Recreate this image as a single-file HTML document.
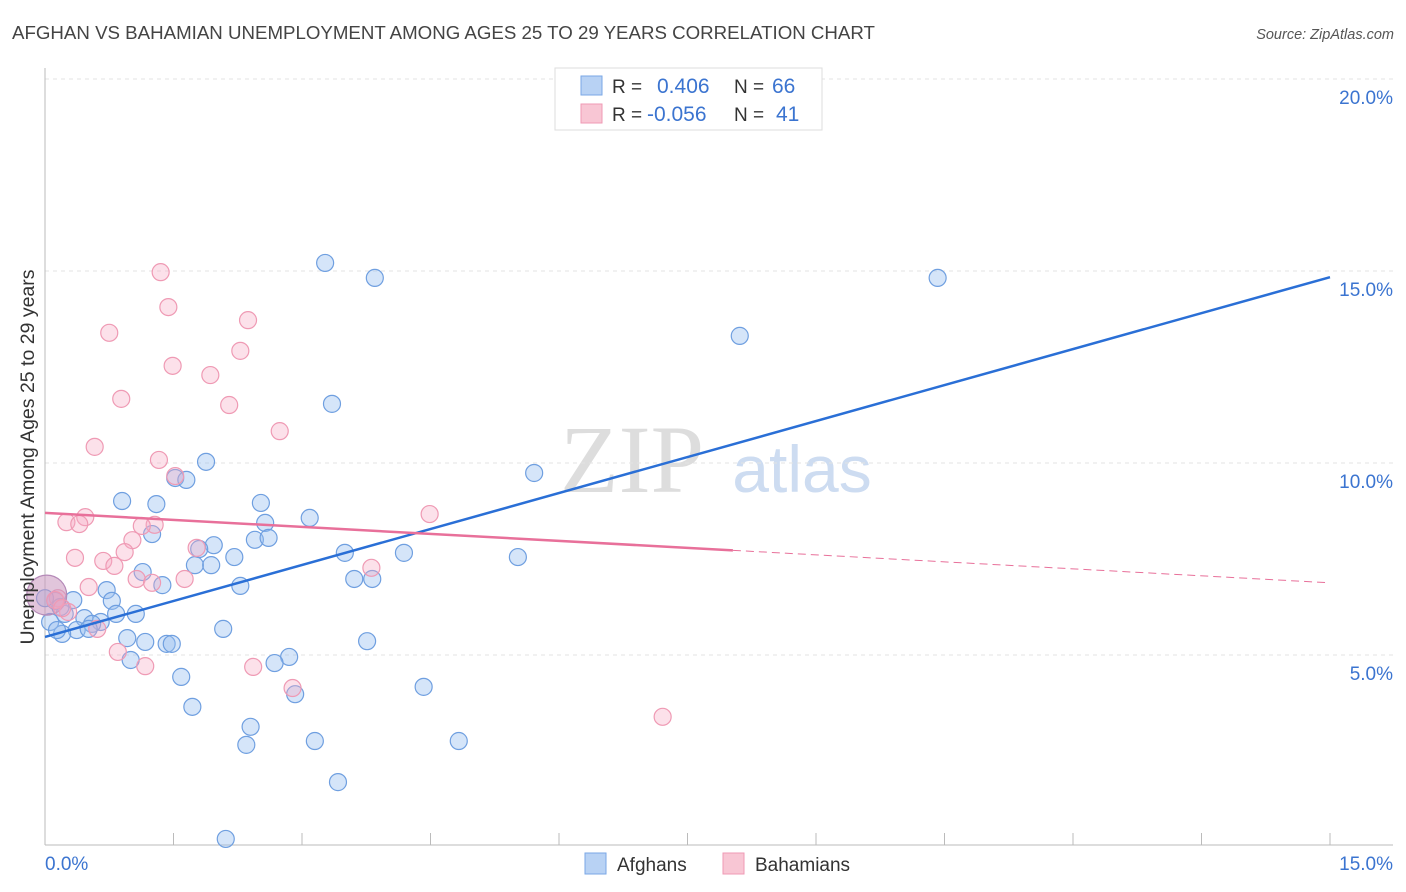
<!DOCTYPE html>
<html><head><meta charset="utf-8"><style>
body{margin:0;background:#fff;font-family:"Liberation Sans",sans-serif;}
svg{display:block}
</style></head><body>
<svg id="c" width="1406" height="892">
<text x="12" y="39" font-size="18.7" fill="#444">AFGHAN VS BAHAMIAN UNEMPLOYMENT AMONG AGES 25 TO 29 YEARS CORRELATION CHART</text>
<text x="1394" y="39" font-size="14.5" fill="#555" font-style="italic" text-anchor="end">Source: ZipAtlas.com</text>
<text x="632" y="492" font-size="96" fill="#ddd" font-family="Liberation Serif,serif" text-anchor="middle">ZIP</text>
<text x="802" y="492" font-size="66" fill="#cddcf1" text-anchor="middle">atlas</text>
<g id="grid"></g><g id="axes"></g><g id="pts"></g><g id="lines"></g>
<text transform="translate(34,457) rotate(-90)" font-size="19.5" fill="#333" text-anchor="middle">Unemployment Among Ages 25 to 29 years</text>
<g>
<rect x="555" y="68" width="267" height="62" fill="#fff" stroke="#ddd"/>
<rect x="581" y="76" width="21" height="19" fill="#b8d2f4" stroke="#7aa7e6"/>
<rect x="581" y="104" width="21" height="19" fill="#f8c6d4" stroke="#ef9ab4"/>
<text x="612" y="93" font-size="19" fill="#333">R = </text><text x="657" y="93" font-size="21" fill="#3b74d0">0.406</text>
<text x="734" y="93" font-size="19" fill="#333">N = </text><text x="772" y="93" font-size="21" fill="#3b74d0">66</text>
<text x="612" y="121" font-size="19" fill="#333">R = </text><text x="647" y="121" font-size="21" fill="#3b74d0">-0.056</text>
<text x="734" y="121" font-size="19" fill="#333">N = </text><text x="776" y="121" font-size="21" fill="#3b74d0">41</text>
</g>
<g>
<rect x="585" y="853" width="21" height="21" fill="#b8d2f4" stroke="#7aa7e6"/>
<text x="617" y="871" font-size="19" fill="#333">Afghans</text>
<rect x="723" y="853" width="21" height="21" fill="#f8c6d4" stroke="#ef9ab4"/>
<text x="755" y="871" font-size="19" fill="#333">Bahamians</text>
</g>
</svg>
<script>
const yTicks=[5,10,15,20];
const xTickLabels=["0.0%","15.0%"];
const afgX=[3.27,3.85,10.42,8.11,3.35,1.88,5.71,1.52,1.65,0.90,1.30,2.52,3.09,2.57,1.25,2.45,2.61,1.97,1.80,3.50,4.19,5.52,2.21,1.75,1.94,1.14,1.37,2.28,3.61,3.82,0.72,0.33,0.78,0.12,1.06,0.83,0.46,0.23,0.65,0.55,0.37,0.20,0.51,0.96,1.17,1.42,1.48,2.08,3.76,2.85,1.00,2.68,1.59,4.42,2.92,1.72,2.40,2.35,3.15,4.83,3.42,2.11,0.06,0.0,0.18,0.14];
const afgY=[15.21,14.82,14.82,13.31,11.54,10.03,9.74,9.61,9.56,9.01,8.93,8.96,8.57,8.44,8.15,8.0,8.05,7.86,7.76,7.66,7.66,7.55,7.55,7.34,7.34,7.16,6.82,6.80,6.98,6.98,6.69,6.43,6.41,6.41,6.07,6.07,5.96,6.07,5.86,5.81,5.65,5.55,5.68,5.44,5.34,5.29,5.29,5.68,5.36,4.95,4.87,4.79,4.43,4.17,3.98,3.65,3.13,2.66,2.76,2.76,1.69,0.21,5.86,6.48,6.25,5.65];
const bahX=[1.35,1.44,0.75,2.37,2.28,1.49,1.93,0.89,2.15,2.74,0.58,1.33,1.52,0.47,0.25,0.40,1.28,1.13,4.49,1.02,1.77,0.93,0.35,0.68,0.81,3.81,1.07,1.63,1.25,0.51,0.15,0.02,0.27,0.61,0.85,1.17,2.43,2.89,7.21,0.12,0.20];
const bahY=[14.97,14.06,13.39,13.72,12.92,12.53,12.29,11.67,11.51,10.83,10.42,10.08,9.66,8.59,8.46,8.41,8.39,8.36,8.67,7.99,7.79,7.68,7.53,7.45,7.32,7.27,6.98,6.98,6.88,6.77,6.48,6.56,6.12,5.68,5.08,4.71,4.69,4.14,3.39,6.43,6.22];
const afgTrend=[5.47,14.84];
const bahTrend=[8.70,6.88];
const bahSolidEnd=8.03;
const X=v=>45+v*(1285/15), Y=v=>847-v*38.4;
const NS="http://www.w3.org/2000/svg";
function mk(t,a,p){const e=document.createElementNS(NS,t);for(const k in a)e.setAttribute(k,a[k]);document.getElementById(p).appendChild(e);return e;}
yTicks.forEach(t=>{
 const l=mk('line',{x1:45,x2:1393,y1:Y(t),y2:Y(t),stroke:'#e3e3e3','stroke-dasharray':'4,4'},'grid');
 
 
 const tx=mk('text',{x:1393,y:Y(t)+25,'font-size':19,fill:'#3b74d0','text-anchor':'end'},'grid');
 tx.textContent=t.toFixed(1)+'%';
 
 
});
const ya=mk('line',{x1:45,x2:45,y1:68,y2:845,stroke:'#bbb'},'axes');


const xa=mk('line',{x1:45,x2:1393,y1:845,y2:845,stroke:'#bbb'},'axes');


for(let i=0;i<=10;i++){const t=mk('line',{x1:X(i*1.5),x2:X(i*1.5),y1:833,y2:845,stroke:'#bbb'},'axes');
 
 }
[[0,'start',45],[15,'end',1393]].forEach((d,i)=>{const t=mk('text',{x:d[2],y:870,'font-size':19,fill:'#3b74d0','text-anchor':d[1]},'axes');t.textContent=xTickLabels[i];
 
 });
afgX.forEach((x,i)=>{const c=mk('circle',{cx:X(x),cy:Y(afgY[i]),r:8.5,fill:'rgba(150,190,240,0.4)',stroke:'#6f9fe0','stroke-width':1.2},'pts');
 
 });
bahX.forEach((x,i)=>{const big=(i==31);const c=mk('circle',{cx:X(x),cy:Y(bahY[i]),r:big?20:8.5,fill:big?'rgba(200,150,190,0.55)':'rgba(245,170,195,0.35)',stroke:big?'#b58ab8':'#ef9ab4','stroke-width':1.2},'pts');
 
 });
const l1=mk('line',{x1:X(0),y1:Y(afgTrend[0]),x2:X(15),y2:Y(afgTrend[1]),stroke:'#2a6fd6','stroke-width':2.5},'lines');


const bAt=x=>bahTrend[0]+(bahTrend[1]-bahTrend[0])*x/15;
const l2=mk('line',{x1:X(0),y1:Y(bahTrend[0]),x2:X(bahSolidEnd),y2:Y(bAt(bahSolidEnd)),stroke:'#e8709a','stroke-width':2.5},'lines');


const l3=mk('line',{x1:X(bahSolidEnd),y1:Y(bAt(bahSolidEnd)),x2:X(15),y2:Y(bahTrend[1]),stroke:'#e8709a','stroke-width':1,'stroke-dasharray':'8,5'},'lines');


</script>
</body></html>
